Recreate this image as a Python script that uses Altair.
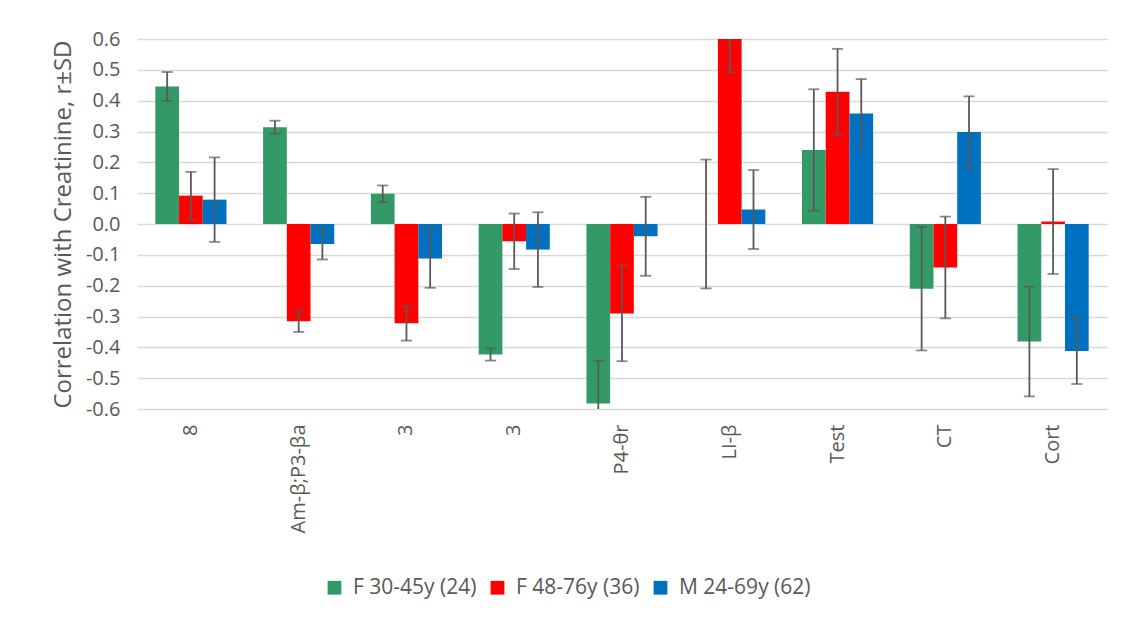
import altair as alt
import pandas as pd

# category labels (two distinct categories are both labelled "3")
categories = ["8", "Am-β;P3-βa", "3", "3", "P4-θr", "LI-β", "Test", "CT", "Cort"]
groups = ["F 30-45y (24)", "F 48-76y (36)", "M 24-69y (62)"]
colors = ["#339966", "#FF0000", "#0070C0"]
y_ticks = [-0.6, -0.5, -0.4, -0.3, -0.2, -0.1, 0.0, 0.1, 0.2, 0.3, 0.4, 0.5, 0.6]

# correlation r and SD per group
r_f30 = [0.446, 0.314, 0.098, -0.423, -0.582, 0.0, 0.240, -0.210, -0.381]
sd_f30 = [0.047, 0.021, 0.027, 0.020, 0.138, 0.209, 0.197, 0.200, 0.178]
r_f48 = [0.092, -0.315, -0.322, -0.056, -0.290, 0.600, 0.429, -0.141, 0.008]
sd_f48 = [0.077, 0.035, 0.056, 0.090, 0.155, 0.108, 0.139, 0.165, 0.170]
r_m24 = [0.079, -0.065, -0.112, -0.083, -0.040, 0.047, 0.358, 0.298, -0.412]
sd_m24 = [0.137, 0.050, 0.095, 0.121, 0.128, 0.128, 0.112, 0.116, 0.107]

rows = []
for g, rs, sds in zip(groups, [r_f30, r_f48, r_m24], [sd_f30, sd_f48, sd_m24]):
    for i, (r, sd) in enumerate(zip(rs, sds)):
        rows.append({"idx": i, "group": g, "r": r, "lo": r - sd, "hi": r + sd})
df = pd.DataFrame(rows)

label_expr = "[" + ", ".join("'" + c + "'" for c in categories) + "][datum.value]"

x_enc = alt.X(
    "idx:O",
    scale=alt.Scale(paddingInner=0.34, paddingOuter=0.17),
    axis=alt.Axis(
        title=None, labelAngle=-90, labelExpr=label_expr, labelFontSize=20,
        labelColor="#595959", domain=False, ticks=False, labelPadding=15,
    ),
)
xoff_enc = alt.XOffset("group:N", sort=groups, scale=alt.Scale(paddingInner=0))
y_scale = alt.Scale(domain=[-0.6, 0.6], nice=False, zero=True)
y_axis = alt.Axis(
    values=y_ticks,
    labelExpr="(datum.value < 0 ? '-' : '') + format(abs(datum.value), '.1f')",
    title="Correlation with Creatinine, r±SD",
    titleFontSize=24, titleFontWeight="normal", titleColor="#595959", titlePadding=10,
    labelFontSize=20, labelColor="#595959", labelPadding=17, labelOverlap=False,
    domain=False, ticks=False, gridColor="#D9D9D9", gridWidth=1.5,
)

base = alt.Chart(df).encode(x=x_enc, xOffset=xoff_enc)

bars = base.mark_bar(clip=True).encode(
    y=alt.Y("r:Q", scale=y_scale, axis=y_axis),
    color=alt.Color(
        "group:N", sort=groups, scale=alt.Scale(domain=groups, range=colors),
        legend=alt.Legend(
            title=None, orient="none", direction="horizontal", legendX=187, legendY=538,
            symbolType="square", symbolSize=190, symbolStrokeWidth=0, labelFontSize=21,
            labelColor="#595959", columnPadding=10, labelOffset=8,
        ),
    ),
)

err_color = "#595959"
whisker = base.mark_rule(clip=True, color=err_color, strokeWidth=1.8).encode(
    y=alt.Y("lo:Q", scale=y_scale, axis=y_axis), y2="hi:Q"
)
cap_lo = base.mark_tick(clip=True, color=err_color, thickness=1.8, size=11).encode(
    y=alt.Y("lo:Q", scale=y_scale, axis=y_axis)
)
cap_hi = base.mark_tick(clip=True, color=err_color, thickness=1.8, size=11).encode(
    y=alt.Y("hi:Q", scale=y_scale, axis=y_axis)
)

chart = alt.layer(bars, whisker, cap_lo, cap_hi).properties(
    width=970,
    height=370,
    autosize=alt.AutoSizeParams(type="none"),
    padding={"left": 129, "top": 31, "right": 6, "bottom": 201},
).configure(
    font="Open Sans", background="white"
).configure_view(stroke=None)

chart.save("out.html", embed_options={"renderer": "svg", "actions": False})
